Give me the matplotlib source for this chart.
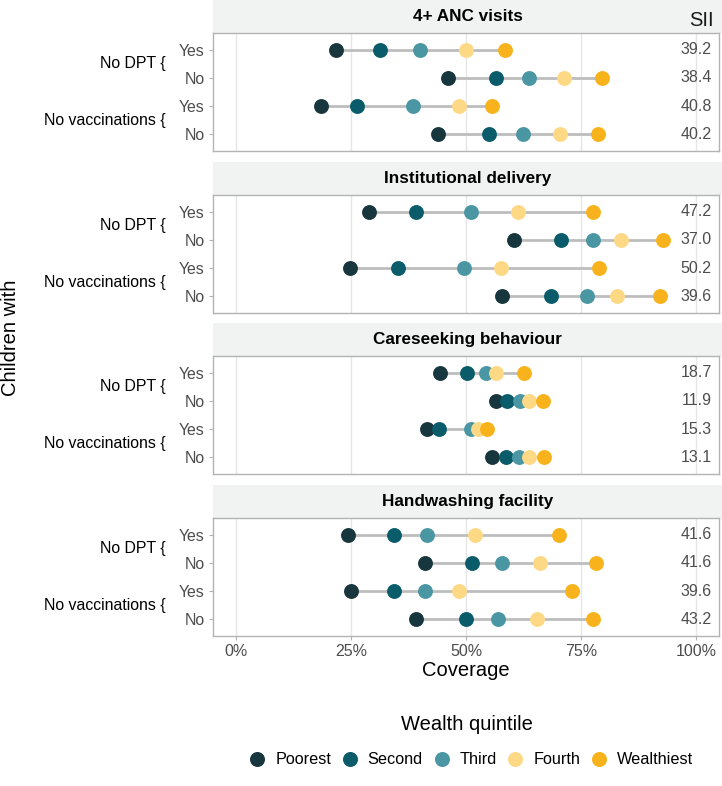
import numpy as np
import matplotlib.pyplot as plt
from matplotlib.lines import Line2D

plt.rcParams['font.family'] = ['Liberation Sans', 'DejaVu Sans']

indicators = ["4+ ANC visits", "Institutional delivery", "Careseeking behaviour", "Handwashing facility"]
groups = ["No DPT", "No vaccinations"]
answers = ["Yes", "No"]
quintiles = ["Poorest", "Second", "Third", "Fourth", "Wealthiest"]
colors = ["#17363d", "#0b5c6a", "#4b96a3", "#fed985", "#f8b21c"]

# coverage (%) per row: No DPT Yes, No DPT No, No vacc Yes, No vacc No
anc = [[21.8, 31.2, 40.1, 50.1, 58.4],
       [46.0, 56.6, 63.8, 71.3, 79.5],
       [18.4, 26.3, 38.5, 48.4, 55.6],
       [43.9, 55.0, 62.4, 70.5, 78.8]]
inst = [[29.0, 39.2, 51.1, 61.2, 77.7],
        [60.5, 70.6, 77.7, 83.8, 92.8],
        [24.7, 35.2, 49.6, 57.6, 78.9],
        [57.8, 68.5, 76.2, 82.9, 92.2]]
care = [[44.3, 50.2, 54.3, 56.6, 62.6],
        [56.5, 58.9, 61.8, 63.8, 66.8],
        [41.6, 44.1, 51.1, 52.7, 54.5],
        [55.6, 58.6, 61.6, 63.7, 66.9]]
hand = [[24.4, 34.3, 41.5, 51.9, 70.3],
        [41.1, 51.4, 57.9, 66.1, 78.2],
        [25.0, 34.3, 41.0, 48.4, 73.0],
        [39.1, 50.0, 56.9, 65.5, 77.7]]
sii = [[39.2, 38.4, 40.8, 40.2],
       [47.2, 37.0, 50.2, 39.6],
       [18.7, 11.9, 15.3, 13.1],
       [41.6, 41.6, 39.6, 43.2]]
data = [anc, inst, care, hand]

W, H = 722, 786
fig = plt.figure(figsize=(W / 100, H / 100), dpi=100)

def fx(px):
    return px / W

def fy(py):
    return 1 - py / H

x0, x1 = 213, 719
panel_tops = [33, 195, 356, 518]
panel_h = 118
strip_h = 33
grey_txt = "#4d4d4d"

ypos = [4, 3, 2, 1]
for i, name in enumerate(indicators):
    top = panel_tops[i]
    # strip
    sax = fig.add_axes([fx(x0), fy(top), fx(722 - x0), strip_h / H])
    sax.set_facecolor("#f1f2f2")
    sax.set_xticks([]); sax.set_yticks([])
    for s in sax.spines.values():
        s.set_visible(False)
    sax.text(0.5, 0.5, name, ha="center", va="center", fontsize=12.3, fontweight="bold",
             transform=sax.transAxes)

    ax = fig.add_axes([fx(x0), fy(top + panel_h), fx(x1 - x0), panel_h / H])
    ax.set_xlim(-0.05, 1.05)
    ax.set_ylim(0.4, 4.6)
    ax.set_xticks([0, 0.25, 0.5, 0.75, 1.0])
    ax.grid(axis="x", color="#e6e6e6", lw=1)
    ax.set_axisbelow(True)
    for s in ax.spines.values():
        s.set_color("#b3b3b3")
        s.set_linewidth(1)
    ax.set_yticks(ypos)
    ax.set_yticklabels(answers * 2, fontsize=11.4, color=grey_txt)
    ax.tick_params(axis="y", length=3, color="#b3b3b3", pad=3)
    if i == 3:
        ax.set_xticklabels(["0%", "25%", "50%", "75%", "100%"], fontsize=11.5, color=grey_txt)
        ax.tick_params(axis="x", length=3, color="#b3b3b3", pad=3)
        ax.set_xlabel("Coverage", fontsize=14.5, labelpad=1)
    else:
        ax.tick_params(axis="x", length=0, labelbottom=False)

    rows = data[i]
    for r, y in enumerate(ypos):
        vals = np.array(rows[r]) / 100
        ax.plot([vals.min(), vals.max()], [y, y], color="#bdbdbd", lw=2, zorder=2)
        for q in range(5):
            ax.scatter(vals[q], y, s=115, color=colors[q], zorder=3, linewidths=0)
        ax.text(1.034, y, f"{sii[i][r]:.1f}", ha="right", va="center", fontsize=11.5, color=grey_txt)

    for g, name_g in enumerate(groups):
        yc = (ypos[2 * g] + ypos[2 * g + 1]) / 2
        ax.text(-0.093, yc, name_g + " {", ha="right", va="center", fontsize=11.4,
                transform=ax.get_yaxis_transform())

fig.text(fx(714), fy(21), "SII", ha="right", va="center", fontsize=14.5, color="#1a1a1a")
fig.text(fx(11), fy(338), "Children with", rotation=90, ha="center", va="center", fontsize=14.5)

fig.text(fx(467), fy(725), "Wealth quintile", ha="center", va="center", fontsize=14.5)
handles = [Line2D([], [], marker="o", ls="", markersize=10.8, markerfacecolor=c, markeredgewidth=0)
           for c in colors]
fig.legend(handles, quintiles, loc="center", bbox_to_anchor=(fx(471), fy(760)), ncol=5,
           frameon=False, fontsize=11.7, handletextpad=0.6, columnspacing=0.65, handlelength=1.0,
           borderpad=0, borderaxespad=0)

fig.savefig("out.png", dpi=100)
